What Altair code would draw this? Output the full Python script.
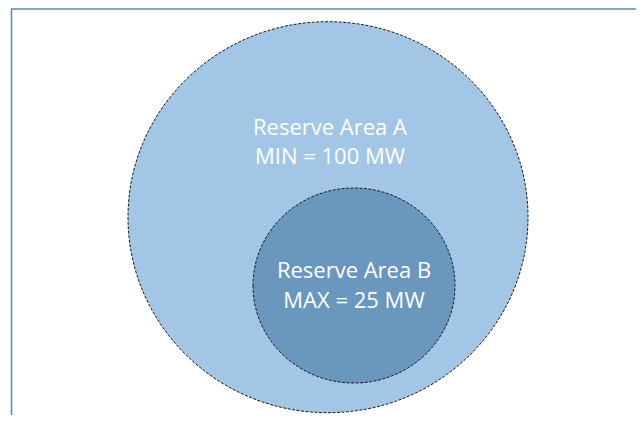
import altair as alt
import pandas as pd

W, H = 628, 407

# Diagram data (positions in diagram units, origin top-left)
circle_names = ["Reserve Area A", "Reserve Area B"]
circle_cx = [320, 346]
circle_cy = [209.2, 277.5]
circle_rx = [200, 101]
circle_ry = [195.5, 97.5]
circle_fill = ["#a3c6e7", "#6a97bd"]

label_lines = ["Reserve Area A", "MIN = 100 MW", "Reserve Area B", "MAX = 25 MW"]
label_x = [322, 322, 346, 346]
label_y = [127, 156, 270, 299.5]

frame_x = [3.5, 3.5, 640]
frame_y = [415, 1, 1]


def ellipse_path(rx, ry):
    k = ry / rx
    return f"M -1 0 A 1 {k:.4f} 0 1 0 1 0 A 1 {k:.4f} 0 1 0 -1 0 Z"


circles = pd.DataFrame({
    "name": circle_names,
    "cx": circle_cx,
    "cy": circle_cy,
    # Vega custom symbol path in [-1, 1] is scaled by sqrt(size) / 2
    "size": [(2 * rx) ** 2 for rx in circle_rx],
    "shape": [ellipse_path(rx, ry) for rx, ry in zip(circle_rx, circle_ry)],
    "fill": circle_fill,
    "order": [0, 1],
})
labels = pd.DataFrame({"text": label_lines, "x": label_x, "y": label_y})
frame = pd.DataFrame({"x": frame_x, "y": frame_y, "i": [0, 1, 2]})

xs = alt.Scale(domain=[0, W])
ys = alt.Scale(domain=[0, H], reverse=True)

base_circles = alt.Chart(circles).mark_point(
    filled=True, opacity=1, stroke="#1a1a1a",
    strokeWidth=1, strokeDash=[3, 1.5], clip=False,
).encode(
    x=alt.X("cx:Q", scale=xs, axis=None),
    y=alt.Y("cy:Q", scale=ys, axis=None),
    size=alt.Size("size:Q", scale=None, legend=None),
    shape=alt.Shape("shape:N", scale=None, legend=None),
    fill=alt.Fill("fill:N", scale=None, legend=None),
    order=alt.Order("order:Q"),
)

text = alt.Chart(labels).mark_text(
    font="Open Sans", fontSize=22, color="white", align="center", baseline="alphabetic",
).encode(
    x=alt.X("x:Q", scale=xs, axis=None),
    y=alt.Y("y:Q", scale=ys, axis=None),
    text="text:N",
)

frame_line = alt.Chart(frame).mark_line(
    color="#5f87b4", strokeWidth=1.5, clip=False,
).encode(
    x=alt.X("x:Q", scale=xs, axis=None),
    y=alt.Y("y:Q", scale=ys, axis=None),
    order="i:Q",
)

chart = alt.layer(frame_line, base_circles, text).properties(
    width=W, height=H, padding=0, autosize=alt.AutoSizeParams(type="none"),
).configure_view(stroke=None)

chart.save("out.html", embed_options={"renderer": "svg", "actions": False})
